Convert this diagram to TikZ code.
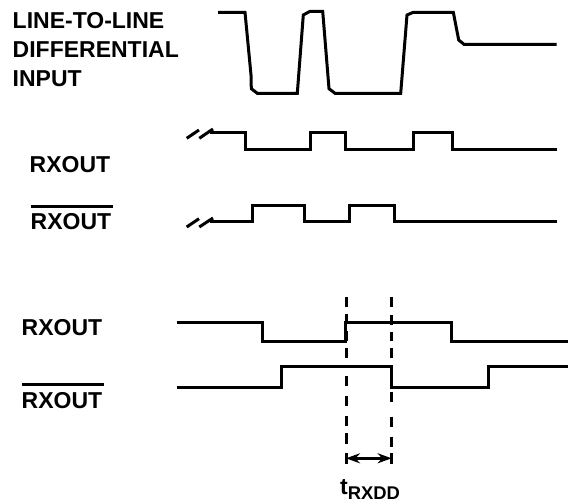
\documentclass[tikz,border=0pt]{standalone}
\usepackage{fontspec}
\setmainfont{Liberation Sans}
\usetikzlibrary{arrows.meta}
\tikzset{
  wave/.style={line width=3pt,line join=miter},
  guide/.style={line width=3pt},
  bar/.style={line width=3pt},
  lab/.style={anchor=base west,inner sep=0pt,font=\fontsize{23}{26}\selectfont\bfseries},
  dim/.style={line width=3pt,{Stealth[length=14pt,width=10pt]}-{Stealth[length=14pt,width=10pt]}}
}
\begin{document}
\begin{tikzpicture}[x=1pt,y=-1pt]
\useasboundingbox (0,0) rectangle (570,502);
\node[lab] (l1) at (12.5,28.4) {LINE-TO-LINE};
\node[lab] (l2) at (12.5,57.6) {DIFFERENTIAL};
\node[lab] (l3) at (12.5,87) {INPUT};
\node[lab] (r1) at (29.5,173) {RXOUT};
\node[lab] (r2) at (30.5,229.5) {RXOUT};
\node[lab] (r3) at (21.5,336) {RXOUT};
\node[lab] (r4) at (21.5,408) {RXOUT};
\coordinate (b1a) at (31,206.7);
\coordinate (b1b) at (112.7,206.7);
\coordinate (b2a) at (22,384.3);
\coordinate (b2b) at (104,384.3);
\draw[bar] (b1a) -- (b1b);
\draw[bar] (b2a) -- (b2b);
\draw[wave] (218,12.3) -- (245,12.3) -- (251,75) -- (251.3,88.7) -- (257.3,93.3) -- (297.3,93.3) -- (303.3,15) -- (310,11.3) -- (322.7,11.3) -- (329,88.7) -- (335,93.3) -- (400.7,93.3) -- (407,15) -- (413.3,12.3) -- (453.3,12.3) -- (458.7,40) -- (464,44.3) -- (556.7,44.3);
\draw[wave] (210,133) -- (245.7,133) -- (245.7,149.3) -- (310.3,149.3) -- (310.3,133) -- (345,133) -- (345,149.3) -- (413.3,149.3) -- (413.3,133) -- (452.7,133) -- (452.7,149.3) -- (556.7,149.3);
\draw[wave] (186.7,138.3) -- (199,130);
\draw[wave] (199.3,138.3) -- (213,129);
\draw[wave] (210,222) -- (252,222) -- (252,206) -- (304,206) -- (304,222) -- (349.3,222) -- (349.3,206) -- (394,206) -- (394,222) -- (556.7,222);
\draw[wave] (186.7,227) -- (199,218.7);
\draw[wave] (199.3,227) -- (213,218);
\draw[wave] (176.7,322.3) -- (262.3,322.3) -- (262.3,342) -- (345.7,342) -- (345.7,322.3) -- (451,322.3) -- (451,342) -- (567.7,342);
\draw[wave] (176.7,387.3) -- (281.3,387.3) -- (281.3,366.7) -- (391,366.7) -- (391,387.3) -- (488.3,387.3) -- (488.3,366.7) -- (567.7,366.7);
\foreach \ya/\yb in {297/307,314/324,331/341,348/358,376/386,396/406,415.7/425.7,433/444}
  \draw[guide] (346,\ya) -- (346,\yb);
\foreach \ya/\yb in {297/307,315/325,331.7/341,348/358,391.7/401.7,416.7/427,436.7/446.7}
  \draw[guide] (391.6,\ya) -- (391.6,\yb);
\coordinate (a1) at (346,458.3);
\coordinate (a2) at (391.6,458.3);
\draw[guide] (346,453) -- (346,463.5);
\draw[guide] (391.6,453) -- (391.6,463.5);
\draw[dim] (a1) -- (a2);
\node[lab] (t) at (340,494) {t\raisebox{-5pt}{\fontsize{18.4}{20}\selectfont RXDD}};
\end{tikzpicture}
\end{document}
